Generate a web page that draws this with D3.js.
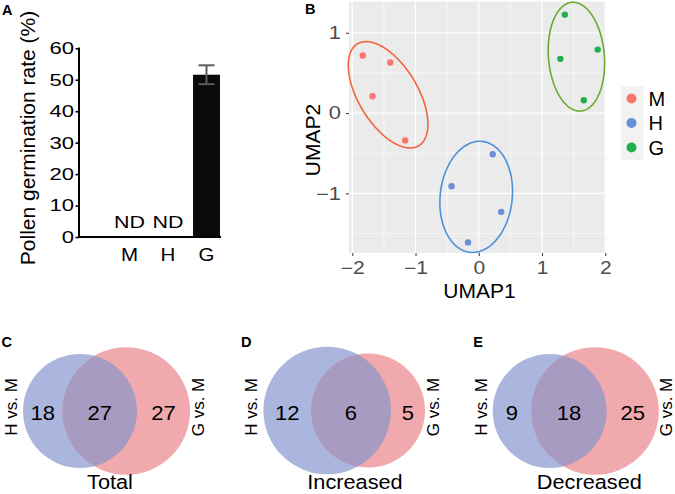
<!DOCTYPE html>
<html><head><meta charset="utf-8">
<script src="https://cdn.jsdelivr.net/npm/d3@7"></script>
<style>body{margin:0;background:#fff} svg{display:block;font-family:"Liberation Sans",Arial,Helvetica,sans-serif}</style>
</head><body><svg id="c" width="675" height="494"></svg>
<script>
// ---------- Panel A data ----------
const germCategories = ["M", "H", "G"];
const germValues = [0, 0, 51.6];
const germErrors = [null, null, 3.0];
const germNotDetected = [true, true, false];
const germTicks = [0, 10, 20, 30, 40, 50, 60];

// ---------- Panel B data ----------
const umapGroups = ["M", "H", "G"];
const umapPointGroup = ["M","M","M","M","H","H","H","H","G","G","G","G"];
const umap1 = [-1.835, -1.40, -1.68, -1.165, 0.22, -0.43, 0.354, -0.17, 1.36, 1.29, 1.88, 1.66];
const umap2 = [0.717, 0.63, 0.21, -0.34, -0.513, -0.91, -1.23, -1.61, 1.226, 0.675, 0.79, 0.16];
const umapTicksX = [-2, -1, 0, 1, 2];
const umapTicksY = [-1, 0, 1];
const ellipseGroup = ["M", "H", "G"];
const ellipseCx = [-1.434, -0.041, 1.543];
const ellipseCy = [0.228, -1.043, 0.702];
const ellipseSxx = [0.3966, 0.330, 0.199];
const ellipseSyy = [0.4384, 0.4787, 0.4583];
const ellipseSxy = [-0.2306, 0.0393, -0.0354];

// ---------- Panels C-E data ----------
const vennLetters = ["C", "D", "E"];
const vennCaptions = ["Total", "Increased", "Decreased"];
const vennSets = ["H vs. M", "G vs. M"];
const vennHOnly = [18, 12, 9];
const vennShared = [27, 6, 18];
const vennGOnly = [27, 5, 25];

const svg = d3.select("#c");
const FONT = '"Liberation Sans",Arial,Helvetica,sans-serif';

function stretch(sel, sx) {
  sel.each(function () {
    const t = d3.select(this);
    const x = +t.attr("x") || 0;
    t.attr("transform", `translate(${x * (1 - sx)},0) scale(${sx},1)`);
  });
}

// ================= Panel A =================
(function () {
  const g = svg.append("g");
  const y = d3.scaleLinear().domain([0, 60]).range([237, 48.3]);
  const x = d3.scaleBand().domain(germCategories).range([110.25, 225.75])
    .paddingInner(0.3).paddingOuter(0.15);

  g.append("text").attr("x", 2).attr("y", 15).attr("font-weight", "bold")
    .attr("font-size", 14.5).text("A");

  g.selectAll("rect.bar").data(germCategories.map((c, i) => ({ c, v: germValues[i] })))
    .join("rect").attr("class", "bar")
    .attr("x", d => x(d.c)).attr("width", x.bandwidth())
    .attr("y", d => y(d.v)).attr("height", d => y(0) - y(d.v))
    .attr("fill", "#0a0a0a");

  const eb = germCategories.map((c, i) => ({ c, v: germValues[i], e: germErrors[i] })).filter(d => d.e != null);
  const ebG = g.selectAll("g.eb").data(eb).join("g").attr("class", "eb")
    .attr("stroke", "#5c5c5c").attr("stroke-width", 2);
  ebG.append("line").attr("x1", d => x(d.c) + x.bandwidth() / 2).attr("x2", d => x(d.c) + x.bandwidth() / 2)
    .attr("y1", d => y(d.v + d.e)).attr("y2", d => y(d.v - d.e));
  ebG.append("line").attr("x1", d => x(d.c) + x.bandwidth() / 2 - 8).attr("x2", d => x(d.c) + x.bandwidth() / 2 + 8)
    .attr("y1", d => y(d.v + d.e)).attr("y2", d => y(d.v + d.e));
  ebG.append("line").attr("x1", d => x(d.c) + x.bandwidth() / 2 - 8).attr("x2", d => x(d.c) + x.bandwidth() / 2 + 8)
    .attr("y1", d => y(d.v - d.e)).attr("y2", d => y(d.v - d.e));

  const nd = g.selectAll("text.nd").data(germCategories.filter((c, i) => germNotDetected[i]))
    .join("text").attr("class", "nd")
    .attr("x", d => x(d) + x.bandwidth() / 2).attr("y", 228)
    .attr("text-anchor", "middle").attr("font-size", 16.5).text("ND");
  stretch(nd, 1.3);

  const ya = g.append("g").attr("transform", "translate(79,0)")
    .call(d3.axisLeft(y).tickValues(germTicks).tickSize(3.5).tickSizeOuter(0).tickPadding(1.5));
  ya.select(".domain").remove();
  ya.selectAll(".tick line").attr("stroke", "#000").attr("stroke-width", 1.6);
  ya.selectAll(".tick text").attr("font-size", 17).attr("font-family", FONT).attr("fill", "#000")
    .call(s => stretch(s, 1.3));
  g.append("line").attr("x1", 79).attr("x2", 79).attr("y1", y(60) - 0.8).attr("y2", y(0) + 1)
    .attr("stroke", "#000").attr("stroke-width", 2);
  g.append("line").attr("x1", 78).attr("x2", 221).attr("y1", y(0)).attr("y2", y(0))
    .attr("stroke", "#000").attr("stroke-width", 2);
  g.selectAll("text.cat").data(germCategories).join("text").attr("class", "cat")
    .attr("x", d => x(d) + x.bandwidth() / 2).attr("y", 261)
    .attr("text-anchor", "middle").attr("font-size", 19).text(d => d)
    .call(s => stretch(s, 1.08));

  g.append("text").attr("transform", "translate(35,138) rotate(-90)")
    .attr("text-anchor", "middle").attr("font-size", 21).text("Pollen germination rate (%)");
})();

// ================= Panel B =================
(function () {
  const g = svg.append("g");
  const L = 349, R = 606, T = 1.5, B = 253;
  const x = d3.scaleLinear().domain([-2.052, 2.011]).range([L, R]);
  const y = d3.scaleLinear().domain([-1.742, 1.389]).range([B, T]);
  const colorPt = d3.scaleOrdinal().domain(umapGroups).range(["#F8766D", "#6A8FD6", "#1FB04B"]);
  const colorEl = d3.scaleOrdinal().domain(umapGroups).range(["#F2663F", "#4C90D8", "#6BAA2F"]);
  const fmt = d3.format("d");

  g.append("text").attr("x", 305).attr("y", 13.5).attr("font-weight", "bold")
    .attr("font-size", 14.5).text("B");

  g.append("rect").attr("x", L).attr("y", T).attr("width", R - L).attr("height", B - T).attr("fill", "#EBEBEB");
  const minorX = [-1.5, -0.5, 0.5, 1.5], minorY = [-1.5, -0.5, 0.5];
  g.selectAll("line.mx").data(minorX).join("line").attr("class", "mx")
    .attr("x1", d => x(d)).attr("x2", d => x(d)).attr("y1", T).attr("y2", B)
    .attr("stroke", "#fff").attr("stroke-width", 0.6);
  g.selectAll("line.my").data(minorY).join("line").attr("class", "my")
    .attr("y1", d => y(d)).attr("y2", d => y(d)).attr("x1", L).attr("x2", R)
    .attr("stroke", "#fff").attr("stroke-width", 0.6);
  g.selectAll("line.gx").data(umapTicksX).join("line").attr("class", "gx")
    .attr("x1", d => x(d)).attr("x2", d => x(d)).attr("y1", T).attr("y2", B)
    .attr("stroke", "#fff").attr("stroke-width", 1.2);
  g.selectAll("line.gy").data(umapTicksY).join("line").attr("class", "gy")
    .attr("y1", d => y(d)).attr("y2", d => y(d)).attr("x1", L).attr("x2", R)
    .attr("stroke", "#fff").attr("stroke-width", 1.2);

  const ts = d3.range(0, 2 * Math.PI + 0.001, Math.PI / 90);
  const line = d3.line().x(d => x(d[0])).y(d => y(d[1]));
  ellipseGroup.forEach((grp, i) => {
    const l11 = Math.sqrt(ellipseSxx[i]);
    const l21 = ellipseSxy[i] / l11;
    const l22 = Math.sqrt(ellipseSyy[i] - l21 * l21);
    const pts = ts.map(t => [ellipseCx[i] + l11 * Math.cos(t), ellipseCy[i] + l21 * Math.cos(t) + l22 * Math.sin(t)]);
    g.append("path").attr("d", line(pts)).attr("fill", "none")
      .attr("stroke", colorEl(grp)).attr("stroke-width", 1.6);
  });

  g.selectAll("circle.pt").data(umap1.map((v, i) => ({ x: v, y: umap2[i], g: umapPointGroup[i] })))
    .join("circle").attr("class", "pt")
    .attr("cx", d => x(d.x)).attr("cy", d => y(d.y)).attr("r", 3.2).attr("fill", d => colorPt(d.g));

  const xa = g.append("g").attr("transform", `translate(0,${B})`)
    .call(d3.axisBottom(x).tickValues(umapTicksX).tickFormat(fmt).tickSize(3).tickPadding(6).tickSizeOuter(0));
  xa.select(".domain").remove();
  xa.selectAll(".tick line").attr("stroke", "#333").attr("stroke-width", 1);
  xa.selectAll(".tick text").attr("font-size", 17.5).attr("fill", "#4D4D4D").attr("font-family", FONT)
    .call(s => stretch(s, 1.2));
  const ya = g.append("g").attr("transform", `translate(${L},0)`)
    .call(d3.axisLeft(y).tickValues(umapTicksY).tickFormat(fmt).tickSize(3).tickPadding(5).tickSizeOuter(0));
  ya.select(".domain").remove();
  ya.selectAll(".tick line").attr("stroke", "#333").attr("stroke-width", 1);
  ya.selectAll(".tick text").attr("font-size", 17.5).attr("fill", "#4D4D4D").attr("font-family", FONT)
    .call(s => stretch(s, 1.25));

  g.append("text").attr("x", 479.5).attr("y", 298).attr("text-anchor", "middle")
    .attr("font-size", 21).text("UMAP1");
  g.append("text").attr("transform", "translate(320,140) rotate(-90)").attr("text-anchor", "middle")
    .attr("font-size", 21).text("UMAP2");

  const lg = g.append("g");
  lg.append("rect").attr("x", 621).attr("y", 86.5).attr("width", 22.5).attr("height", 73.5).attr("fill", "#F2F2F2");
  const ly = d3.scalePoint().domain(umapGroups).range([98.5, 147.5]);
  lg.selectAll("circle").data(umapGroups).join("circle")
    .attr("cx", 631.5).attr("cy", d => ly(d)).attr("r", 5).attr("fill", d => colorPt(d));
  lg.selectAll("text").data(umapGroups).join("text")
    .attr("x", 648.5).attr("y", d => ly(d) + 7.3).attr("font-size", 20).text(d => d);
})();

// ================= Panels C-E =================
(function () {
  const layout = [
    { blueCx: 80, redCx: 126.2, cy: 411, capX: 110, letterX: 1.5 },
    { blueCx: 327.2, redCx: 368, cy: 410.5, capX: 355, letterX: 241 },
    { blueCx: 549.7, redCx: 595, cy: 411, capX: 589.3, letterX: 473.3 }
  ];
  const blueFill = "#ABB6DE", redFill = "#F0A9AC", overlapFill = "#A79BC1";
  vennLetters.forEach((letter, i) => {
    const lay = layout[i];
    const hTot = vennHOnly[i] + vennShared[i];
    const gTot = vennGOnly[i] + vennShared[i];
    const r = d3.scaleLinear().domain([Math.min(hTot, gTot), Math.max(hTot, gTot)]).range([57, 63.8]);
    const rB = r(hTot), rR = r(gTot);
    const g = svg.append("g");
    const clipId = "clip" + i;
    g.append("clipPath").attr("id", clipId).append("circle")
      .attr("cx", lay.blueCx).attr("cy", lay.cy).attr("r", rB);
    g.append("circle").attr("cx", lay.blueCx).attr("cy", lay.cy).attr("r", rB).attr("fill", blueFill);
    g.append("circle").attr("cx", lay.redCx).attr("cy", lay.cy).attr("r", rR).attr("fill", redFill);
    g.append("circle").attr("cx", lay.redCx).attr("cy", lay.cy).attr("r", rR).attr("fill", overlapFill)
      .attr("clip-path", `url(#${clipId})`);

    const leftB = lay.blueCx - rB, rightB = lay.blueCx + rB;
    const leftR = lay.redCx - rR, rightR = lay.redCx + rR;
    const nums = [
      { x: (leftB + leftR) / 2, v: vennHOnly[i] },
      { x: (leftR + rightB) / 2, v: vennShared[i] },
      { x: (rightB + rightR) / 2, v: vennGOnly[i] }
    ];
    g.selectAll("text.num").data(nums).join("text").attr("class", "num")
      .attr("x", d => d.x).attr("y", 420.3).attr("text-anchor", "middle")
      .attr("font-size", 21).text(d => d.v)
      .call(s => stretch(s, 1.05));

    g.append("text").attr("transform", `translate(${leftB - 6},407) rotate(-90)`)
      .attr("text-anchor", "middle").attr("font-size", 17).text(vennSets[0]);
    g.append("text").attr("transform", `translate(${Math.min(rightR + 14, 671.5)},407) rotate(-90)`)
      .attr("text-anchor", "middle").attr("font-size", 17).text(vennSets[1]);

    g.append("text").attr("x", lay.capX).attr("y", 489.5).attr("text-anchor", "middle")
      .attr("font-size", 20.5).text(vennCaptions[i])
      .call(s => stretch(s, 1.06));
    g.append("text").attr("x", lay.letterX).attr("y", 347).attr("font-weight", "bold")
      .attr("font-size", 14.5).text(letter);
  });
})();
</script></body></html>
